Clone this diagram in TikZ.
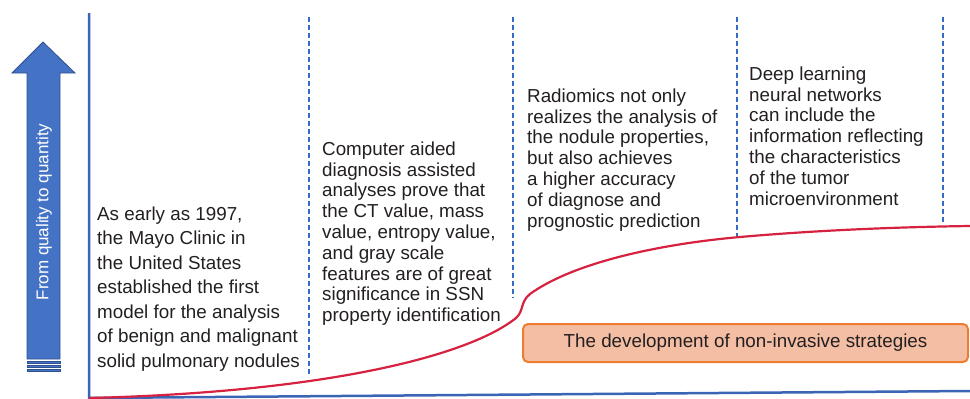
\documentclass[tikz,border=0pt]{standalone}
\usepackage{fontspec}
\setmainfont{Liberation Sans}
\definecolor{axisblue}{RGB}{58,100,180}
\definecolor{dashblue}{RGB}{52,110,196}
\definecolor{arrowblue}{RGB}{68,114,196}
\definecolor{arrowedge}{RGB}{47,82,143}
\definecolor{curvered}{RGB}{214,34,64}
\definecolor{boxorange}{RGB}{237,125,49}
\definecolor{boxfill}{RGB}{244,190,164}
\definecolor{txtgray}{RGB}{35,31,32}
\begin{document}
\begin{tikzpicture}[x=1pt,y=-1pt,
    stage/.style={anchor=north west,inner sep=0pt,align=left,text=txtgray,
      font=\fontsize{18.8}{20.8}\selectfont},
    divider/.style={draw=dashblue,line width=2.6pt,dash pattern=on 5pt off 3pt}]
  \useasboundingbox (0,0) rectangle (970,399);
  % big arrow on the left
  \filldraw [fill=arrowblue,draw=arrowedge,line width=0.8pt]
    (27,359) -- (27,73) -- (12,73) -- (43,42) -- (75,73) -- (60,73) -- (60,359) -- cycle;
  \foreach \y in {361,365,369}
    \filldraw [fill=arrowblue,draw=arrowedge,line width=0.5pt] (27,\y) rectangle (60,\y+2.5);
  \node (trend) [rotate=90,text=white,font=\fontsize{17}{20}\selectfont] at (44,212) {From quality to quantity};
  % axes
  \draw [axisblue,line width=2.5pt] (89,13) -- (89,398) -- (970,391);
  % stage dividers
  \draw [divider] (309,17) -- (309,377);
  \draw [divider] (513,17) -- (513,298);
  \draw [divider] (737,17) -- (737,236);
  \draw [divider] (943,17) -- (943,223);
  % development curve
  \draw [curvered,line width=2.2pt]
    (89,398) .. controls (330,392) and (470,355) .. (516,318)
             .. controls (524,311) and (520,302) .. (530,294)
             .. controls (570,265) and (650,245) .. (740,237)
             .. controls (820,230) and (900,227) .. (970,226);
  % stage texts
  \node (mayo) [stage,font=\fontsize{18.8}{24.5}\selectfont] at (97,206.5)
    {As early as 1997,\\the Mayo Clinic in\\the United States\\established the first\\model for the analysis\\of benign and malignant\\solid pulmonary nodules};
  \node (cad) [stage] at (322,141.5)
    {Computer aided\\diagnosis assisted\\analyses prove that\\the CT value, mass\\value, entropy value,\\and gray scale\\features are of great\\significance in SSN\\property identification};
  \node (radiomics) [stage] at (527,88.5)
    {Radiomics not only\\realizes the analysis of\\the nodule properties,\\but also achieves\\a higher accuracy\\of diagnose and\\prognostic prediction};
  \node (deep) [stage] at (749,66.5)
    {Deep learning\\neural networks\\can include the\\information reflecting\\the characteristics\\of the tumor\\microenvironment};
  % strategy box
  \node (strategy) [draw=boxorange,fill=boxfill,line width=2pt,rounded corners=5pt,
    minimum width=445pt,minimum height=38pt,text=txtgray,
    font=\fontsize{18.8}{20.8}\selectfont] at (745.5,343) {The development of non-invasive strategies};
\end{tikzpicture}
\end{document}
